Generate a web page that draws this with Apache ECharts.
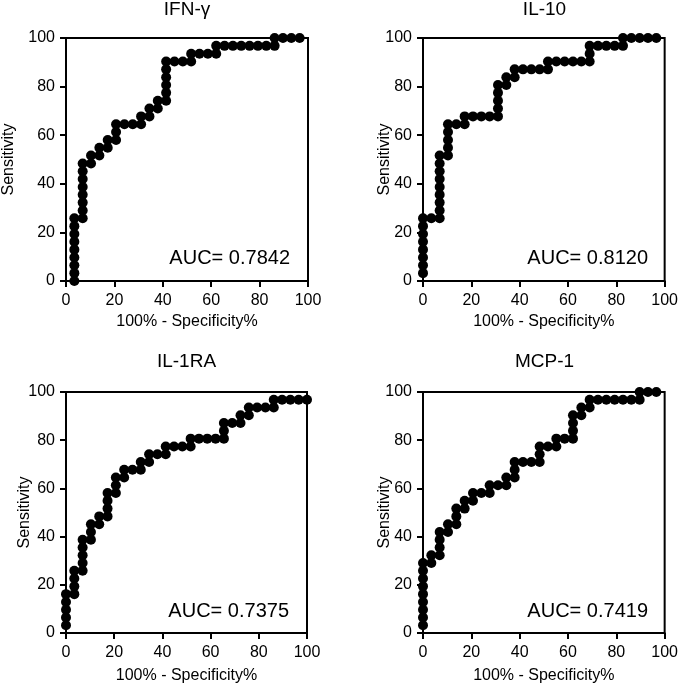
<!DOCTYPE html>
<html>
<head>
<meta charset="utf-8">
<script src="https://cdn.jsdelivr.net/npm/echarts@6/dist/echarts.min.js"></script>
<style>
html,body{margin:0;padding:0;background:#fff;}
#chart{width:681px;height:685px;}
</style>
</head>
<body>
<div id="chart"></div>
<script>
// Panel titles and AUC labels
var panelTitles = ['IFN-\u03b3', 'IL-10', 'IL-1RA', 'MCP-1'];
var aucLabels = ['AUC= 0.7842', 'AUC= 0.8120', 'AUC= 0.7375', 'AUC= 0.7419'];
var xTickValues = [0, 20, 40, 60, 80, 100];
var yTickValues = [0, 20, 40, 60, 80, 100];
var xAxisTitle = '100% - Specificity%';
var yAxisTitle = 'Sensitivity';

// IFN-gamma ROC points (100% - Specificity%, Sensitivity%)
var ifnX = [3.45,3.45,3.45,3.45,3.45,3.45,3.45,3.45,3.45,
  6.90,6.90,6.90,6.90,6.90,6.90,6.90,6.90,
  10.34,10.34,13.79,13.79,17.24,17.24,20.69,20.69,20.69,
  24.14,27.59,31.03,31.03,34.48,34.48,37.93,37.93,
  41.38,41.38,41.38,41.38,41.38,41.38,
  44.83,48.28,51.72,51.72,55.17,58.62,62.07,62.07,
  65.52,68.97,72.41,75.86,79.31,82.76,86.21,86.21,
  89.66,93.10,96.55];
var ifnY = [0,3.23,6.45,9.68,12.90,16.13,19.35,22.58,25.81,
  25.81,29.03,32.26,35.48,38.71,41.94,45.16,48.39,
  48.39,51.61,51.61,54.84,54.84,58.06,58.06,61.29,64.52,
  64.52,64.52,64.52,67.74,67.74,70.97,70.97,74.19,
  74.19,77.42,80.65,83.87,87.10,90.32,
  90.32,90.32,90.32,93.55,93.55,93.55,93.55,96.77,
  96.77,96.77,96.77,96.77,96.77,96.77,96.77,100,
  100,100,100];

// IL-10
var il10X = [0,0,0,0,0,0,0,0,
  3.45,6.90,6.90,6.90,6.90,6.90,6.90,6.90,6.90,6.90,
  10.34,10.34,10.34,10.34,10.34,
  13.79,17.24,17.24,
  20.69,24.14,27.59,31.03,31.03,31.03,31.03,31.03,
  34.48,34.48,37.93,37.93,
  41.38,44.83,48.28,51.72,51.72,
  55.17,58.62,62.07,65.52,68.97,68.97,68.97,
  72.41,75.86,79.31,82.76,82.76,
  86.21,89.66,93.10,96.55];
var il10Y = [3.23,6.45,9.68,12.90,16.13,19.35,22.58,25.81,
  25.81,25.81,29.03,32.26,35.48,38.71,41.94,45.16,48.39,51.61,
  51.61,54.84,58.06,61.29,64.52,
  64.52,64.52,67.74,
  67.74,67.74,67.74,67.74,70.97,74.19,77.42,80.65,
  80.65,83.87,83.87,87.10,
  87.10,87.10,87.10,87.10,90.32,
  90.32,90.32,90.32,90.32,90.32,93.55,96.77,
  96.77,96.77,96.77,96.77,100,
  100,100,100,100];

// IL-1RA
var il1raX = [0,0,0,0,0,
  3.45,3.45,3.45,3.45,
  6.90,6.90,6.90,6.90,6.90,
  10.34,10.34,10.34,
  13.79,13.79,
  17.24,17.24,17.24,17.24,
  20.69,20.69,20.69,
  24.14,24.14,
  27.59,31.03,31.03,
  34.48,34.48,
  37.93,41.38,41.38,
  44.83,48.28,51.72,51.72,
  55.17,58.62,62.07,65.52,65.52,65.52,
  68.97,72.41,72.41,
  75.86,75.86,
  79.31,82.76,86.21,86.21,
  89.66,93.10,96.55,100];
var il1raY = [3.23,6.45,9.68,12.90,16.13,
  16.13,19.35,22.58,25.81,
  25.81,29.03,32.26,35.48,38.71,
  38.71,41.94,45.16,
  45.16,48.39,
  48.39,51.61,54.84,58.06,
  58.06,61.29,64.52,
  64.52,67.74,
  67.74,67.74,70.97,
  70.97,74.19,
  74.19,74.19,77.42,
  77.42,77.42,77.42,80.65,
  80.65,80.65,80.65,80.65,83.87,87.10,
  87.10,87.10,90.32,
  90.32,93.55,
  93.55,93.55,93.55,96.77,
  96.77,96.77,96.77,96.77];

// MCP-1
var mcpX = [0,0,0,0,0,0,0,0,0,
  3.45,3.45,
  6.90,6.90,6.90,6.90,
  10.34,10.34,
  13.79,13.79,13.79,
  17.24,17.24,
  20.69,20.69,
  24.14,27.59,27.59,
  31.03,34.48,34.48,
  37.93,37.93,37.93,
  41.38,44.83,48.28,48.28,48.28,
  51.72,55.17,55.17,
  58.62,62.07,62.07,62.07,62.07,
  65.52,65.52,
  68.97,68.97,
  72.41,75.86,79.31,82.76,86.21,89.66,89.66,
  93.10,96.55];
var mcpY = [3.23,6.45,9.68,12.90,16.13,19.35,22.58,25.81,29.03,
  29.03,32.26,
  32.26,35.48,38.71,41.94,
  41.94,45.16,
  45.16,48.39,51.61,
  51.61,54.84,
  54.84,58.06,
  58.06,58.06,61.29,
  61.29,61.29,64.52,
  64.52,67.74,70.97,
  70.97,70.97,70.97,74.19,77.42,
  77.42,77.42,80.65,
  80.65,80.65,83.87,87.10,90.32,
  90.32,93.55,
  93.55,96.77,
  96.77,96.77,96.77,96.77,96.77,96.77,100,
  100,100];

var seriesX = [ifnX, il10X, il1raX, mcpX];
var seriesY = [ifnY, il10Y, il1raY, mcpY];

var FONT = '"Liberation Sans", Arial, Helvetica, sans-serif';
var grids = [
  {left: 66, top: 38, width: 242, height: 243},
  {left: 423, top: 38, width: 243, height: 243},
  {left: 66, top: 392, width: 241, height: 242},
  {left: 423, top: 392, width: 243, height: 242}
];
var yNameGaps = [49, 30, 33, 30];
var xNameGaps = [33, 33, 35, 35];
var titleTops = [0, 0, 352, 352];
var aucTops = [248, 248, 601, 601];

var option = {
  animation: false,
  backgroundColor: '#ffffff',
  title: [],
  grid: [],
  xAxis: [],
  yAxis: [],
  series: []
};

for (var k = 0; k < 4; k++) {
  var g = grids[k];
  option.grid.push({
    left: g.left, top: g.top, width: g.width, height: g.height,
    show: true, borderColor: '#000', borderWidth: 2, backgroundColor: 'transparent',
    containLabel: false
  });
  option.title.push({
    text: panelTitles[k],
    left: g.left + g.width / 2,
    top: titleTops[k],
    textAlign: 'center',
    padding: 0,
    textStyle: {fontFamily: FONT, fontSize: 19, fontWeight: 'normal', color: '#000'}
  });
  option.title.push({
    text: aucLabels[k],
    left: g.left + g.width - 18,
    top: aucTops[k],
    textAlign: 'right',
    padding: 0,
    textStyle: {fontFamily: FONT, fontSize: 20, fontWeight: 'normal', color: '#000'}
  });
  option.xAxis.push({
    type: 'value', gridIndex: k, min: xTickValues[0], max: xTickValues[xTickValues.length - 1],
    interval: xTickValues[1] - xTickValues[0],
    name: xAxisTitle, nameLocation: 'middle', nameGap: xNameGaps[k], nameMoveOverlap: false,
    nameTextStyle: {fontFamily: FONT, fontSize: 16, color: '#000'},
    axisLine: {show: true, onZero: false, lineStyle: {color: '#000', width: 2}},
    axisTick: {show: true, length: 6, lineStyle: {color: '#000', width: 2}},
    axisLabel: {fontFamily: FONT, fontSize: 16, color: '#000', margin: 12},
    splitLine: {show: false}
  });
  option.yAxis.push({
    type: 'value', gridIndex: k, min: yTickValues[0], max: yTickValues[yTickValues.length - 1],
    interval: yTickValues[1] - yTickValues[0],
    name: yAxisTitle, nameLocation: 'middle', nameGap: yNameGaps[k], nameRotate: 90, nameMoveOverlap: false,
    nameTextStyle: {fontFamily: FONT, fontSize: 16, color: '#000'},
    axisLine: {show: true, onZero: false, lineStyle: {color: '#000', width: 2}},
    axisTick: {show: true, length: 6, lineStyle: {color: '#000', width: 2}},
    axisLabel: {fontFamily: FONT, fontSize: 16, color: '#000', margin: 11},
    splitLine: {show: false}
  });
  var pts = [];
  for (var i = 0; i < seriesX[k].length; i++) pts.push([seriesX[k][i], seriesY[k][i]]);
  option.series.push({
    type: 'line', xAxisIndex: k, yAxisIndex: k, data: pts,
    symbol: 'circle', symbolSize: 10, showSymbol: true, clip: false,
    itemStyle: {color: '#000'},
    lineStyle: {color: '#000', width: 2.5},
    z: 5
  });
}

var chart = echarts.init(document.getElementById('chart'), null, {renderer: 'canvas'});
chart.setOption(option);
</script>
</body>
</html>
